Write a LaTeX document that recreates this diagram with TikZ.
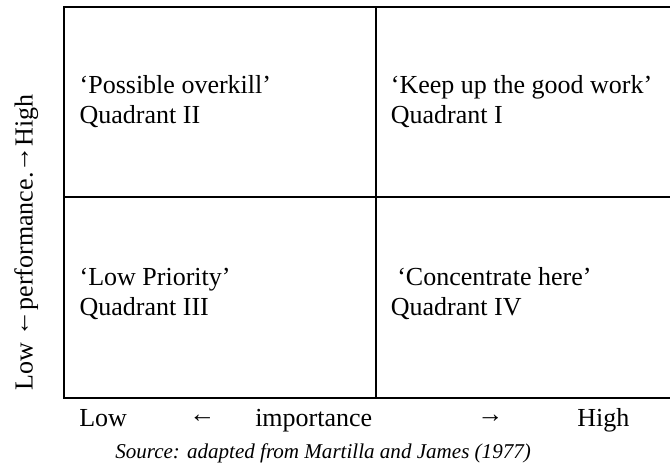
\documentclass[tikz,border=0pt]{standalone}
\usepackage{fontspec}
\setmainfont{Liberation Serif}
% arrows lifted to the middle of the lowercase letters
\newcommand{\larr}{\raisebox{2.6pt}{←}}
\newcommand{\rarr}{\raisebox{2.6pt}{→}}
\begin{document}
\begin{tikzpicture}[x=0.75pt,y=-0.75pt,
  frame/.style={line width=1.6pt},
  divider/.style={line width=1.4pt},
  cell/.style={anchor=base west,inner sep=0pt,font=\fontsize{19.5}{22.5}\selectfont},
  axis/.style={anchor=base west,inner sep=0pt,font=\fontsize{19.5}{22.5}\selectfont},
  source/.style={anchor=base west,inner sep=0pt,font=\itshape\fontsize{15.8}{18}\selectfont}]
  \useasboundingbox (0,0) rectangle (670,463);
  \clip (0,0) rectangle (670,463);

  % grid corners
  \coordinate (tl) at (64,7);
  \coordinate (tr) at (675,7);
  \coordinate (bl) at (64,398);
  \coordinate (br) at (675,398);
  \coordinate (mt) at (375.7,7);
  \coordinate (mb) at (375.7,398);
  \coordinate (ml) at (64,196.7);
  \coordinate (mr) at (675,196.7);

  % outer frame and quadrant dividers
  \draw[frame] (tr) -- (tl) -- (bl) -- (br);
  \draw[divider] (mt) -- (mb);
  \draw[divider] (ml) -- (mr);

  % quadrant texts
  \node[cell] (q2a) at (79.4,94) {‘Possible overkill’};
  \node[cell] (q2b) at (79.4,124) {Quadrant II};
  \node[cell] (q1a) at (390.6,94) {‘Keep up the good work’};
  \node[cell] (q1b) at (390.6,124) {Quadrant I};
  \node[cell] (q3a) at (79.4,285) {‘Low Priority’};
  \node[cell] (q3b) at (79.4,315) {Quadrant III};
  \node[cell] (q4a) at (397,285) {‘Concentrate here’};
  \node[cell] (q4b) at (390.6,315) {Quadrant IV};

  % horizontal axis label
  \node[axis] (xlow) at (79,426) {Low};
  \node[axis] (xlarr) at (189,426) {\larr};
  \node[axis] (ximp) at (255,426) {importance};
  \node[axis] (xrarr) at (477,426) {\rarr};
  \node[axis] (xhigh) at (577,426) {High};

  % vertical axis label
  \node[rotate=90,anchor=base,inner sep=0pt,font=\fontsize{19.5}{22.5}\selectfont]
    (ylab) at (32.7,242.5) {Low \larr performance.\rarr High};

  % source line
  \node[source] (src) at (115,458) {Source: adapted from Martilla and James (1977)};
\end{tikzpicture}
\end{document}
